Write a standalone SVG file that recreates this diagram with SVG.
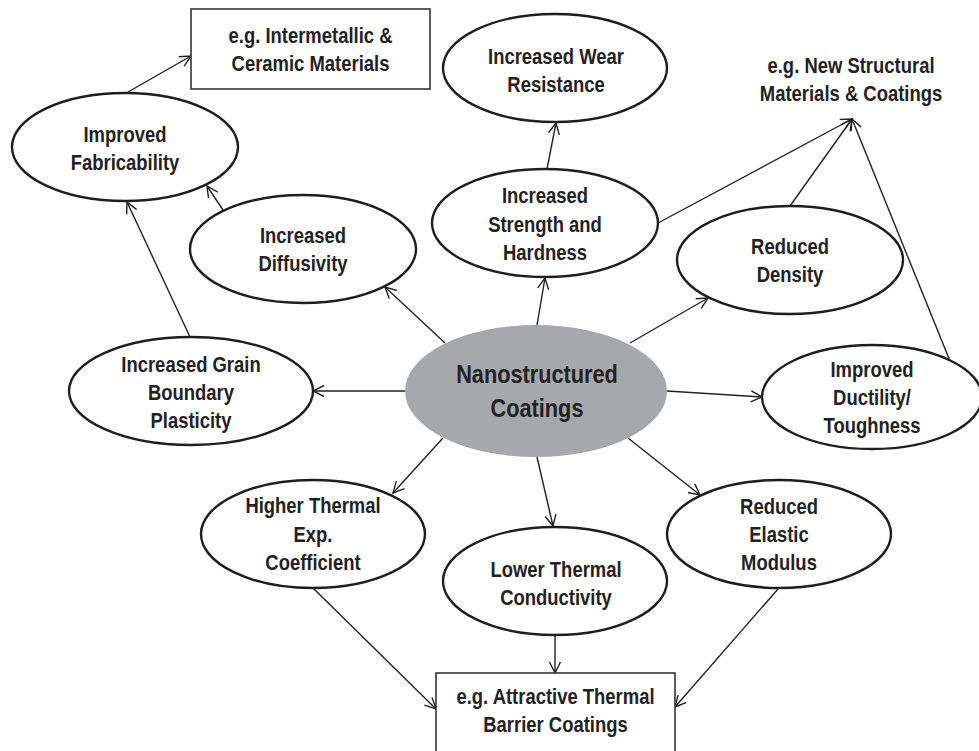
<svg xmlns="http://www.w3.org/2000/svg" width="979" height="751" viewBox="0 0 979 751">
<defs>
<marker id="arr" markerUnits="userSpaceOnUse" markerWidth="20" markerHeight="20" refX="0" refY="0" viewBox="-14 -10 20 20" orient="auto" overflow="visible">
<path d="M-11,-5.5 L0,0 L-11,5.5" fill="none" stroke="#222" stroke-width="1.4"/>
</marker>
<style>
.bg{fill:#fff}
.el{fill:#fff;stroke:#1e1e1e;stroke-width:2.4}
.bx{fill:#fff;stroke:#333;stroke-width:1.6}
.t{font-family:"Liberation Sans",Arial,sans-serif;font-weight:bold;font-size:22.5px;fill:#222;text-anchor:middle}
.tc{font-family:"Liberation Sans",Arial,sans-serif;font-weight:bold;font-size:26.5px;fill:#222;text-anchor:middle}
.c line{stroke:#222;stroke-width:1.4;marker-end:url(#arr)}
</style>
</defs>
<rect class="bg" x="0" y="0" width="979" height="751"/>
<g id="connectors" class="c">
<line x1="128" y1="92" x2="191" y2="56"/>
<line x1="190" y1="337" x2="127" y2="202"/>
<line x1="223" y1="210" x2="207" y2="186"/>
<line x1="445" y1="343" x2="385" y2="287"/>
<line x1="405" y1="391" x2="313" y2="391"/>
<line x1="537" y1="325" x2="545" y2="278"/>
<line x1="547" y1="169" x2="556" y2="123"/>
<line x1="658" y1="223" x2="852" y2="119"/>
<line x1="790" y1="206" x2="852" y2="119"/>
<line x1="950" y1="361" x2="852" y2="119"/>
<line x1="630" y1="343" x2="708" y2="298"/>
<line x1="667" y1="391" x2="762" y2="397"/>
<line x1="443" y1="438" x2="393" y2="493"/>
<line x1="537" y1="457" x2="553" y2="526"/>
<line x1="628" y1="438" x2="700" y2="495"/>
<line x1="555" y1="635" x2="555" y2="673"/>
<line x1="313" y1="588" x2="436" y2="709"/>
<line x1="778" y1="589" x2="675" y2="707"/>
</g>
<g id="box-intermetallic">
<rect class="bx" x="191" y="9" width="239" height="80"/>
<g transform="translate(310.5 0) scale(0.82 1)">
<text class="t" x="0" y="43">e.g. Intermetallic &amp;</text>
<text class="t" x="0" y="71">Ceramic Materials</text>
</g>
</g>
<g id="node-fabricability">
<ellipse class="el" cx="125" cy="147" rx="113" ry="54"/>
<g transform="translate(125 0) scale(0.82 1)">
<text class="t" x="0" y="142">Improved</text>
<text class="t" x="0" y="170">Fabricability</text>
</g>
</g>
<g id="node-wear">
<ellipse class="el" cx="555" cy="68" rx="112" ry="54"/>
<g transform="translate(556 0) scale(0.82 1)">
<text class="t" x="0" y="64">Increased Wear</text>
<text class="t" x="0" y="92">Resistance</text>
</g>
</g>
<g id="label-structural">
<g transform="translate(851 0) scale(0.82 1)">
<text class="t" x="0" y="73">e.g. New Structural</text>
<text class="t" x="0" y="101">Materials &amp; Coatings</text>
</g>
</g>
<g id="node-strength">
<ellipse class="el" cx="545" cy="223" rx="113" ry="54"/>
<g transform="translate(545 0) scale(0.82 1)">
<text class="t" x="0" y="203">Increased</text>
<text class="t" x="0" y="232">Strength and</text>
<text class="t" x="0" y="260">Hardness</text>
</g>
</g>
<g id="node-diffusivity">
<ellipse class="el" cx="303" cy="249" rx="113" ry="54"/>
<g transform="translate(303 0) scale(0.82 1)">
<text class="t" x="0" y="243">Increased</text>
<text class="t" x="0" y="271">Diffusivity</text>
</g>
</g>
<g id="node-density">
<ellipse class="el" cx="790" cy="260" rx="113" ry="54"/>
<g transform="translate(790 0) scale(0.82 1)">
<text class="t" x="0" y="254">Reduced</text>
<text class="t" x="0" y="282">Density</text>
</g>
</g>
<g id="node-grain">
<ellipse class="el" cx="191" cy="391" rx="122" ry="54"/>
<g transform="translate(191 0) scale(0.82 1)">
<text class="t" x="0" y="372">Increased Grain</text>
<text class="t" x="0" y="400">Boundary</text>
<text class="t" x="0" y="428">Plasticity</text>
</g>
</g>
<g id="node-center">
<ellipse cx="536" cy="391" rx="131" ry="66" fill="#a7a8ab"/>
<g transform="translate(537 0) scale(0.82 1)">
<text class="tc" x="0" y="383">Nanostructured</text>
<text class="tc" x="0" y="417">Coatings</text>
</g>
</g>
<g id="node-ductility">
<ellipse class="el" cx="872" cy="397" rx="110" ry="52"/>
<g transform="translate(872 0) scale(0.82 1)">
<text class="t" x="0" y="377">Improved</text>
<text class="t" x="0" y="405">Ductility/</text>
<text class="t" x="0" y="433">Toughness</text>
</g>
</g>
<g id="node-higher-thermal">
<ellipse class="el" cx="313" cy="534" rx="112" ry="54"/>
<g transform="translate(313 0) scale(0.82 1)">
<text class="t" x="0" y="513">Higher Thermal</text>
<text class="t" x="0" y="542">Exp.</text>
<text class="t" x="0" y="570">Coefficient</text>
</g>
</g>
<g id="node-lower-thermal">
<ellipse class="el" cx="555" cy="581" rx="112" ry="54"/>
<g transform="translate(556 0) scale(0.82 1)">
<text class="t" x="0" y="577">Lower Thermal</text>
<text class="t" x="0" y="605">Conductivity</text>
</g>
</g>
<g id="node-elastic">
<ellipse class="el" cx="779" cy="534" rx="112" ry="54"/>
<g transform="translate(779 0) scale(0.82 1)">
<text class="t" x="0" y="514">Reduced</text>
<text class="t" x="0" y="542">Elastic</text>
<text class="t" x="0" y="570">Modulus</text>
</g>
</g>
<g id="box-tbc">
<rect class="bx" x="436" y="673" width="239" height="90"/>
<g transform="translate(555.5 0) scale(0.82 1)">
<text class="t" x="0" y="704">e.g. Attractive Thermal</text>
<text class="t" x="0" y="732">Barrier Coatings</text>
</g>
</g>
</svg>
